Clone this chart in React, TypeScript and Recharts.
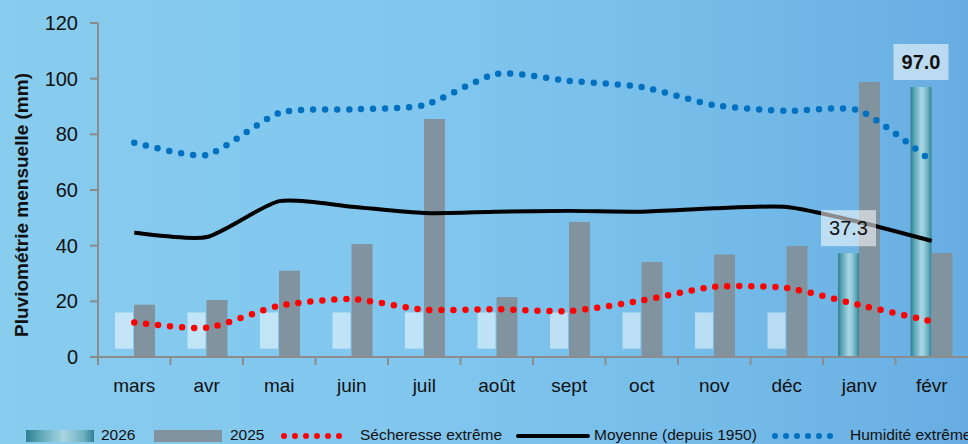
import React from "react";
import { ComposedChart, Bar, Line, XAxis, YAxis, LabelList } from "recharts";

const months = ["mars", "avr", "mai", "juin", "juil", "août", "sept", "oct", "nov", "déc", "janv", "févr"];
const rain2026 = [null, null, null, null, null, null, null, null, null, null, 37.3, 97.0];
const pending2026 = [[3, 16], [3, 16], [3, 16], [3, 16], [3, 16], [3, 16], [3, 16], [3, 16], [3, 16], [3, 16], null, null];
const rain2025 = [18.8, 20.5, 31, 40.6, 85.5, 21.6, 48.5, 34.1, 36.8, 39.9, 98.8, 37.4];
const secheresse = [12.4, 10.5, 18.4, 20.8, 17, 17.2, 16.5, 20.3, 25.2, 24.8, 18.7, 12.8];
const moyenne = [44.6, 43.1, 56, 54, 51.7, 52.2, 52.5, 52.2, 53.4, 53.9, 48.5, 41.7];
const humidite = [77, 72.6, 87.7, 89, 90.5, 101.7, 99.2, 97, 90.5, 88.4, 88.5, 70.4];
const yTicks = [0, 20, 40, 60, 80, 100, 120];

const data = months.map((m, i) => ({
  month: m,
  y2026: rain2026[i],
  overlay: pending2026[i] ?? rain2026[i],
  pending: pending2026[i] !== null,
  y2025: rain2025[i],
  sech: secheresse[i],
  moy: moyenne[i],
  hum: humidite[i],
}));

const W = 968;
const H = 444;
const LEFT = 98;
const TOP = 23;
const BOTTOM = 87;
const band = (W - LEFT) / months.length;
const FONT = "'Liberation Sans', Arial, sans-serif";
const AXIS = "#8c8c8c";
const maxNew = Math.max(...rain2026.filter((v) => v !== null));

// smoothed line, a bit tighter than plain Catmull-Rom
const K = 1 / 9;
const smooth = (context: any) => {
  let pts: number[][] = [];
  return {
    areaStart() {},
    areaEnd() {},
    lineStart() {
      pts = [];
    },
    point(x: number, y: number) {
      pts.push([+x, +y]);
    },
    lineEnd() {
      if (!pts.length) return;
      context.moveTo(pts[0][0], pts[0][1]);
      for (let i = 0; i < pts.length - 1; i++) {
        const p0 = pts[i - 1] || pts[i];
        const p1 = pts[i];
        const p2 = pts[i + 1];
        const p3 = pts[i + 2] || p2;
        context.bezierCurveTo(
          p1[0] + (p2[0] - p0[0]) * K,
          p1[1] + (p2[1] - p0[1]) * K,
          p2[0] - (p3[0] - p1[0]) * K,
          p2[1] - (p3[1] - p1[1]) * K,
          p2[0],
          p2[1]
        );
      }
    },
  };
};

const XTick = (props: any) => {
  const { x, y, payload } = props;
  return (
    <g>
      <line x1={x - band / 2} x2={x - band / 2} y1={y - 8} y2={y} stroke={AXIS} strokeWidth={2} />
      <text x={x} y={y + 27} textAnchor="middle" fontSize={19} fontFamily={FONT} fill="#111">
        {payload.value}
      </text>
    </g>
  );
};

const OverlayShape = (props: any) => {
  const { x, y, width, height, payload } = props;
  if (!payload.pending) return null;
  return <rect x={x + 2} y={y} width={width - 3} height={height} fill="#ffffff" fillOpacity={0.5} />;
};

const NewShape = (props: any) => {
  const { x, y, width, height } = props;
  if (!height) return null;
  return <rect x={x} y={y} width={width} height={height} fill="url(#teal)" />;
};

const ValueLabel = (props: any) => {
  const { x, y, width, value, index } = props;
  if (rain2026[index] === null || value === null) return null;
  const cx = x + width / 2;
  const bold = rain2026[index] === maxNew;
  return (
    <g>
      <rect x={cx - 27.5} y={y - 43} width={55} height={36} fill="#ffffff" fillOpacity={0.55} />
      <text x={cx} y={y - 18} textAnchor="middle" fontSize={20} fontFamily={FONT} fontWeight={bold ? "bold" : "normal"} fill="#111">
        {rain2026[index].toFixed(1)}
      </text>
    </g>
  );
};

const Legend = () => {
  const txt: React.CSSProperties = { position: "absolute", top: 426, fontSize: 15.5, fontFamily: FONT, color: "#111", whiteSpace: "nowrap" };
  return (
    <div>
      <div style={{ position: "absolute", left: 26, top: 430, width: 68, height: 12, background: "linear-gradient(to right, #2f7f92, #5aa5b5 20%, #a8d6e2 55%, #6fb0c0 85%, #2f7f92)" }} />
      <div style={{ ...txt, left: 101 }}>2026</div>
      <div style={{ position: "absolute", left: 154, top: 430, width: 68, height: 12, background: "#80939e" }} />
      <div style={{ ...txt, left: 230 }}>2025</div>
      <svg style={{ position: "absolute", left: 280, top: 430 }} width={64} height={12}>
        <line x1={4} x2={62} y1={6} y2={6} stroke="#ff0000" strokeWidth={6} strokeLinecap="round" strokeDasharray="0 11" />
      </svg>
      <div style={{ ...txt, left: 360 }}>Sécheresse extrême</div>
      <svg style={{ position: "absolute", left: 515, top: 430 }} width={76} height={12}>
        <line x1={3} x2={73} y1={6} y2={6} stroke="#000" strokeWidth={4} strokeLinecap="round" />
      </svg>
      <div style={{ ...txt, left: 594 }}>Moyenne (depuis 1950)</div>
      <svg style={{ position: "absolute", left: 770, top: 430 }} width={72} height={12}>
        <line x1={5} x2={70} y1={6} y2={6} stroke="#0070c0" strokeWidth={6} strokeLinecap="round" strokeDasharray="0 11" />
      </svg>
      <div style={{ ...txt, left: 850 }}>Humidité extrême</div>
    </div>
  );
};

export default function App() {
  return (
    <div
      style={{
        position: "absolute",
        left: 0,
        top: 0,
        width: W,
        height: H,
        overflow: "hidden",
        background: "linear-gradient(to right, #88ccee 0%, #80c6ee 45%, #74bbe8 75%, #68ade2 100%)",
      }}
    >
      <div
        style={{
          position: "absolute",
          left: 22,
          top: 205,
          transform: "translate(-50%, -50%) rotate(-90deg)",
          fontFamily: FONT,
          fontWeight: "bold",
          fontSize: 19,
          color: "#111",
          whiteSpace: "nowrap",
        }}
      >
        Pluviométrie mensuelle (mm)
      </div>
      <ComposedChart
        width={W}
        height={H}
        data={data}
        margin={{ top: TOP, right: 0, left: 0, bottom: 0 }}
        barSize={21}
        barGap={0}
        style={{ position: "absolute", left: 0, top: 0 }}
      >
        <defs>
          <linearGradient id="teal" x1="0" y1="0" x2="1" y2="0">
            <stop offset="0%" stopColor="#2f7f92" />
            <stop offset="18%" stopColor="#5aa5b5" />
            <stop offset="50%" stopColor="#a5d5e2" />
            <stop offset="65%" stopColor="#98cddb" />
            <stop offset="88%" stopColor="#5aa3b3" />
            <stop offset="100%" stopColor="#2f7f92" />
          </linearGradient>
        </defs>
        <XAxis
          dataKey="month"
          height={BOTTOM}
          interval={0}
          tick={<XTick />}
          tickLine={false}
          tickSize={0}
          tickMargin={8}
          axisLine={{ stroke: AXIS, strokeWidth: 2 }}
        />
        <XAxis xAxisId="p" dataKey="month" hide />
        <YAxis
          width={LEFT}
          domain={[0, 120]}
          ticks={yTicks}
          interval={0}
          tickSize={8}
          tickMargin={12}
          tick={{ fill: "#111", fontSize: 20, fontFamily: FONT }}
          tickLine={{ stroke: AXIS, strokeWidth: 2 }}
          axisLine={{ stroke: AXIS, strokeWidth: 2 }}
        />
        <Bar dataKey="y2026" shape={<NewShape />} isAnimationActive={false} />
        <Bar dataKey="y2025" fill="#80939e" isAnimationActive={false} />
        <Line
          type={smooth as any}
          dataKey="moy"
          stroke="#000"
          strokeWidth={4}
          dot={false}
          activeDot={false}
          isAnimationActive={false}
        />
        <Line
          type={smooth as any}
          dataKey="sech"
          stroke="#ff0000"
          strokeWidth={6.5}
          strokeLinecap="round"
          strokeDasharray="0 12"
          dot={false}
          activeDot={false}
          isAnimationActive={false}
        />
        <Line
          type={smooth as any}
          dataKey="hum"
          stroke="#0070c0"
          strokeWidth={6.5}
          strokeLinecap="round"
          strokeDasharray="0 12"
          dot={false}
          activeDot={false}
          isAnimationActive={false}
        />
        <Bar xAxisId="p" dataKey="overlay" shape={<OverlayShape />} isAnimationActive={false}>
          <LabelList dataKey="overlay" content={<ValueLabel />} />
        </Bar>
        <Bar xAxisId="p" dataKey="y2025" fill="none" isAnimationActive={false} />
      </ComposedChart>
      <Legend />
    </div>
  );
}
